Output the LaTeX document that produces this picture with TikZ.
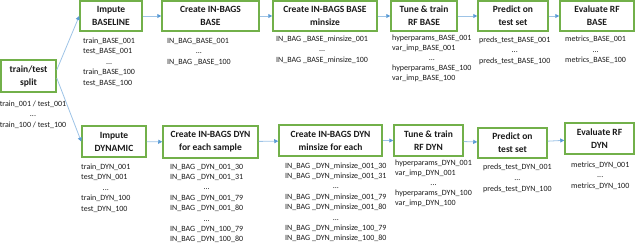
\documentclass[tikz,border=0pt]{standalone}
\usepackage{fontspec}
\setmainfont{Carlito}
\usetikzlibrary{arrows.meta}
\definecolor{boxgreen}{HTML}{72B04A}
\definecolor{arrowblue}{HTML}{9DC3E6}
\definecolor{headblue}{HTML}{5B9BD5}
\definecolor{txt}{HTML}{1A1A1A}
\tikzset{
 box/.style={draw=boxgreen, line width=1.5pt, fill=white, align=center, text=txt,
   font=\fontsize{9.5}{13}\bfseries\selectfont, inner sep=0pt},
 lbl/.style={inner sep=0pt, anchor=north west, text=txt, font=\fontsize{8}{10.5}\selectfont},
 flow/.style={draw=arrowblue, line width=0.8pt, -{Triangle[length=4pt,width=4pt,color=headblue]}},
}
\newcommand{\dotsrow}{\multicolumn{1}{@{}c@{}}{...}}
\begin{document}
\begin{tikzpicture}[x=1pt,y=-1pt]
\useasboundingbox (0,0) rectangle (640,244);
% boxes
\node[box, minimum width=55pt, minimum height=32pt] (split) at (28.5,76) {train/test\\split};
\node[box, minimum width=62pt, minimum height=30pt] (imb) at (111,16) {Impute\\BASELINE};
\node[box, minimum width=97pt, minimum height=30pt] (cib) at (210.5,16) {Create IN-BAGS\\BASE};
\node[box, minimum width=104pt, minimum height=30pt] (cibm) at (325,16) {Create IN-BAGS BASE\\minsize};
\node[box, minimum width=66pt, minimum height=30pt] (ttb) at (424,16) {Tune \& train\\RF BASE};
\node[box, minimum width=70pt, minimum height=30pt] (pb) at (513,16) {Predict on\\test set};
\node[box, minimum width=74pt, minimum height=30pt] (eb) at (597,16) {Evaluate RF\\BASE};
\node[box, minimum width=64pt, minimum height=31pt] (imd) at (114,141.5) {Impute\\DYNAMIC};
\node[box, minimum width=95pt, minimum height=32pt] (cid) at (210.5,142) {Create IN-BAGS DYN\\for each sample};
\node[box, minimum width=103pt, minimum height=31pt] (cidm) at (330.5,140.5) {Create IN-BAGS DYN\\minsize for each};
\node[box, minimum width=69pt, minimum height=31pt] (ttd) at (428.5,140.5) {Tune \& train\\RF DYN};
\node[box, minimum width=69pt, minimum height=30pt] (pd) at (512.5,143) {Predict on\\test set};
\node[box, minimum width=69pt, minimum height=31pt] (ed) at (599.5,138.5) {Evaluate RF\\DYN};
% labels
\node[lbl, anchor=north] (lsplit) at (33,98.6) {\begin{tabular}{@{}c@{}}train\_001 / test\_001\\...\\train\_100 / test\_100\end{tabular}};
\node[lbl] (limb) at (83,35.6) {\begin{tabular}{@{}l@{}}train\_BASE\_001\\test\_BASE\_001\\\dotsrow\\train\_BASE\_100\\test\_BASE\_100\end{tabular}};
\node[lbl] (lcib) at (167,35.6) {\begin{tabular}{@{}l@{}}IN\_BAG\_BASE\_001\\\dotsrow\\IN\_BAG \_BASE\_100\end{tabular}};
\node[lbl] (lcibm) at (276,33.6) {\begin{tabular}{@{}l@{}}IN\_BAG \_BASE\_minsize\_001\\\dotsrow\\IN\_BAG \_BASE\_minsize\_100\end{tabular}};
\node[lbl, font=\fontsize{8}{10}\selectfont] (lttb) at (392,33.6) {\begin{tabular}{@{}l@{}}hyperparams\_BASE\_001\\var\_imp\_BASE\_001\\\dotsrow\\hyperparams\_BASE\_100\\var\_imp\_BASE\_100\end{tabular}};
\node[lbl] (lpb) at (479,34.6) {\begin{tabular}{@{}l@{}}preds\_test\_BASE\_001\\\dotsrow\\preds\_test\_BASE\_100\end{tabular}};
\node[lbl] (leb) at (565,34) {\begin{tabular}{@{}l@{}}metrics\_BASE\_001\\\dotsrow\\metrics\_BASE\_100\end{tabular}};
\node[lbl] (limd) at (81,161.6) {\begin{tabular}{@{}l@{}}train\_DYN\_001\\test\_DYN\_001\\\dotsrow\\train\_DYN\_100\\test\_DYN\_100\end{tabular}};
\node[lbl, font=\fontsize{8}{10.4}\selectfont] (lcid) at (170,161.6) {\begin{tabular}{@{}l@{}}IN\_BAG \_DYN\_001\_30\\IN\_BAG \_DYN\_001\_31\\\dotsrow\\IN\_BAG \_DYN\_001\_79\\IN\_BAG \_DYN\_001\_80\\\dotsrow\\IN\_BAG \_DYN\_100\_79\\IN\_BAG \_DYN\_100\_80\end{tabular}};
\node[lbl, font=\fontsize{8}{10.4}\selectfont] (lcidm) at (285,160.6) {\begin{tabular}{@{}l@{}}IN\_BAG \_DYN\_minsize\_001\_30\\IN\_BAG \_DYN\_minsize\_001\_31\\\dotsrow\\IN\_BAG \_DYN\_minsize\_001\_79\\IN\_BAG \_DYN\_minsize\_001\_80\\\dotsrow\\IN\_BAG \_DYN\_minsize\_100\_79\\IN\_BAG \_DYN\_minsize\_100\_80\end{tabular}};
\node[lbl, font=\fontsize{8}{10}\selectfont] (lttd) at (395,158.6) {\begin{tabular}{@{}l@{}}hyperparams\_DYN\_001\\var\_imp\_DYN\_001\\\dotsrow\\hyperparams\_DYN\_100\\var\_imp\_DYN\_100\end{tabular}};
\node[lbl, font=\fontsize{8}{11}\selectfont] (lpd) at (483,161.6) {\begin{tabular}{@{}l@{}}preds\_test\_DYN\_001\\\dotsrow\\preds\_test\_DYN\_100\end{tabular}};
\node[lbl] (led) at (571,159.6) {\begin{tabular}{@{}l@{}}metrics\_DYN\_001\\\dotsrow\\metrics\_DYN\_100\end{tabular}};
% arrows
\draw[flow] ([yshift=6pt]split.east) -- (imb.west);
\draw[flow] ([yshift=-2pt]split.east) -- (imd.west);
\draw[flow] (imb) -- (cib);
\draw[flow] (cib) -- (cibm);
\draw[flow] (cibm) -- (ttb);
\draw[flow] (ttb) -- (pb);
\draw[flow] (pb) -- (eb);
\draw[flow] (imd) -- (cid);
\draw[flow] (cid) -- (cidm);
\draw[flow] (cidm) -- (ttd);
\draw[flow] (ttd) -- (pd);
\draw[flow] (pd) -- (ed);
\end{tikzpicture}
\end{document}
